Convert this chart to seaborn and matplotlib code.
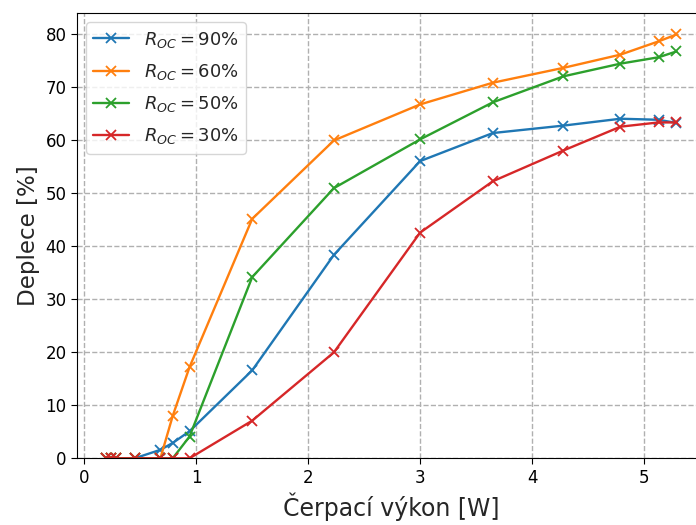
import matplotlib
matplotlib.use("Agg")
import matplotlib.pyplot as plt
import seaborn as sns
import pandas as pd

# Pump power [W]
pump_power = [0.19, 0.24, 0.28, 0.45, 0.68, 0.79, 0.94, 1.5, 2.23, 3.0, 3.65, 4.28, 4.79, 5.13, 5.29]

# Depletion [%] for each output-coupler reflectivity
depl_90 = [0, 0, 0, 0, 1.6, 2.9, 5.1, 16.6, 38.4, 56.1, 61.4, 62.8, 64.1, 63.9, 63.3]
depl_60 = [0, 0, 0, 0, 0, 8.0, 17.2, 45.2, 60.0, 66.8, 70.9, 73.7, 76.2, 78.7, 80.0]
depl_50 = [0, 0, 0, 0, 0, 0, 4.1, 34.2, 51.0, 60.2, 67.2, 72.1, 74.5, 75.7, 76.8]
depl_30 = [0, 0, 0, 0, 0, 0, 0, 7.1, 20.0, 42.6, 52.3, 58.1, 62.6, 63.4, 63.4]

series_labels = [r"$R_{OC} = 90\%$", r"$R_{OC} = 60\%$", r"$R_{OC} = 50\%$", r"$R_{OC} = 30\%$"]
series_values = [depl_90, depl_60, depl_50, depl_30]
colors = ["#1f77b4", "#ff7f0e", "#2ca02c", "#d62728"]

sns.set_style("ticks")
plt.rcParams["font.family"] = ["DejaVu Sans"]

fig = plt.figure(figsize=(6.96, 5.25), dpi=100)
ax = fig.add_axes([77 / 696, 66.7 / 525, 628 / 696, 445 / 525])

for lab, vals, col in zip(series_labels, series_values, colors):
    sns.lineplot(x=pump_power, y=vals, color=col, label=lab,
                 marker="x", markersize=7, markeredgewidth=1.3,
                 markeredgecolor=col, linewidth=1.7, linestyle="-",
                 ax=ax, sort=False, errorbar=None)

ax.set_ylim(0, 84)
ax.set_xlim(-0.065, 5.545)
ax.set_xticks([0, 1, 2, 3, 4, 5])
ax.set_yticks([0, 10, 20, 30, 40, 50, 60, 70, 80])
ax.grid(True, linestyle="--", color="#b0b0b0", linewidth=1)
ax.tick_params(labelsize=12, colors="black", length=4)
for s in ax.spines.values():
    s.set_color("black")
    s.set_visible(True)

ax.set_xlabel("Čerpací výkon [W]", fontsize=17)
ax.set_ylabel("Deplece [%]", fontsize=16.6)

leg = ax.legend(loc="upper left", fontsize=13, labelspacing=0.68, frameon=True)
leg.get_frame().set_edgecolor("#cccccc")

fig.savefig("out.png", dpi=100)
